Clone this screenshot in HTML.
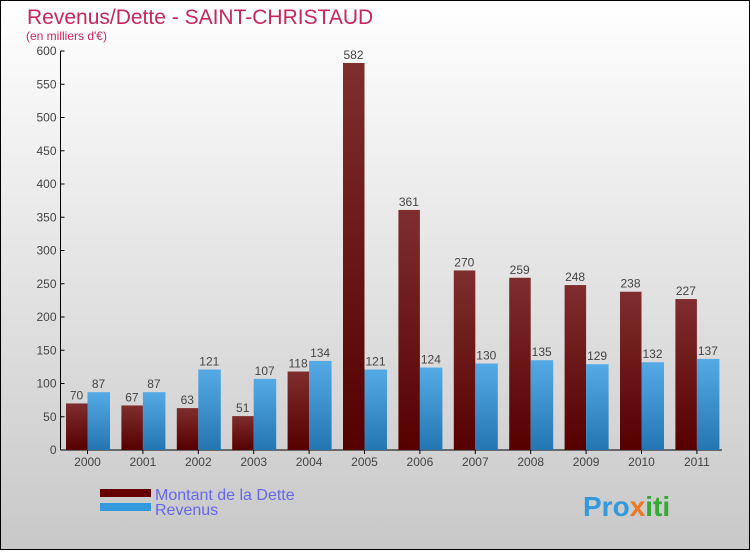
<!DOCTYPE html>
<html><head><meta charset="utf-8">
<style>
body{margin:0;}
#c{width:750px;height:550px;position:relative;font-family:"Liberation Sans",sans-serif;}
</style></head>
<body>
<div id="c">
<svg id="s" width="750" height="550" xmlns="http://www.w3.org/2000/svg">
<defs>
<linearGradient id="bg" x1="0" y1="0" x2="0" y2="1"><stop offset="0" stop-color="#ffffff"/><stop offset="1" stop-color="#c8c8c8"/></linearGradient>
<linearGradient id="gd" x1="0" y1="0" x2="0" y2="1"><stop offset="0" stop-color="#7f2d2e"/><stop offset="1" stop-color="#560000"/></linearGradient>
<linearGradient id="gr" x1="0" y1="0" x2="0" y2="1"><stop offset="0" stop-color="#55aae6"/><stop offset="1" stop-color="#2476b2"/></linearGradient>
</defs>
<rect x="0.5" y="0.5" width="749" height="549" fill="url(#bg)" stroke="#000"/>
<text x="27" y="24" font-size="21" fill="#c6265a">Revenus/Dette - SAINT-CHRISTAUD</text>
<text x="26" y="40" font-size="12" fill="#c6265a">(en milliers d'€)</text>
<g id="axes"></g>
<g id="bars"></g>
<rect x="100" y="489" width="51" height="8" fill="#660000"/>
<rect x="100" y="503" width="51" height="8" fill="#3399dd"/>
<text x="155" y="500" font-size="16" fill="#6666ee">Montant de la Dette</text>
<text x="155" y="515" font-size="16" fill="#6666ee">Revenus</text>
<text x="583" y="516" font-size="28" font-weight="bold"><tspan fill="#3399dd">Pro</tspan><tspan fill="#ee7722">x</tspan><tspan fill="#33aa33">iti</tspan></text>
</svg>
</div>
<script>
const years=["2000","2001","2002","2003","2004","2005","2006","2007","2008","2009","2010","2011"];
const dette=[70,67,63,51,118,582,361,270,259,248,238,227];
const revenus=[87,87,121,107,134,121,124,130,135,129,132,137];
const ticks=[0,50,100,150,200,250,300,350,400,450,500,550,600];
const NS="http://www.w3.org/2000/svg";
const y0=450, ppu=399/600, x0=60.5;
function yS(v){return y0-v*ppu;}
function xC(i){return 87.5+i*55.4;}
function mk(tag,attrs,parent){const e=document.createElementNS(NS,tag);for(const k in attrs)e.setAttribute(k,attrs[k]);parent.appendChild(e);return e;}
const ax=document.getElementById('axes'), bg=document.getElementById('bars');
let l=mk('line',{x1:x0,y1:yS(600),x2:x0,y2:y0,stroke:'#000'},ax);


l=mk('line',{x1:x0,y1:y0,x2:722,y2:y0,stroke:'#000'},ax);


ticks.forEach(t=>{
  mk('line',{x1:x0,y1:yS(t),x2:x0+4,y2:yS(t),stroke:'#000'},ax);
  const tx=mk('text',{x:x0-4,y:yS(t)+4,'font-size':12,'text-anchor':'end',fill:'#444'},ax);
  tx.textContent=t;
  
  
});
years.forEach((y,i)=>{
  const c=xC(i);
  mk('line',{x1:c,y1:y0,x2:c,y2:y0+4,stroke:'#000'},ax);
  const tx=mk('text',{x:c,y:y0+16,'font-size':12,'text-anchor':'middle',fill:'#444'},ax);
  tx.textContent=y;
  
  
  const r1=mk('rect',{x:c-21.5,y:yS(dette[i]),width:21.5,height:dette[i]*ppu,fill:'url(#gd)'},bg);
  
  
  const r2=mk('rect',{x:c,y:yS(revenus[i]),width:22.5,height:revenus[i]*ppu,fill:'url(#gr)'},bg);
  
  
  const t1=mk('text',{x:c-11,y:yS(dette[i])-4,'font-size':12,'text-anchor':'middle',fill:'#444'},bg);
  t1.textContent=dette[i];
  
  
  const t2=mk('text',{x:c+11,y:yS(revenus[i])-4,'font-size':12,'text-anchor':'middle',fill:'#444'},bg);
  t2.textContent=revenus[i];
  
  
});
</script>
</body></html>
